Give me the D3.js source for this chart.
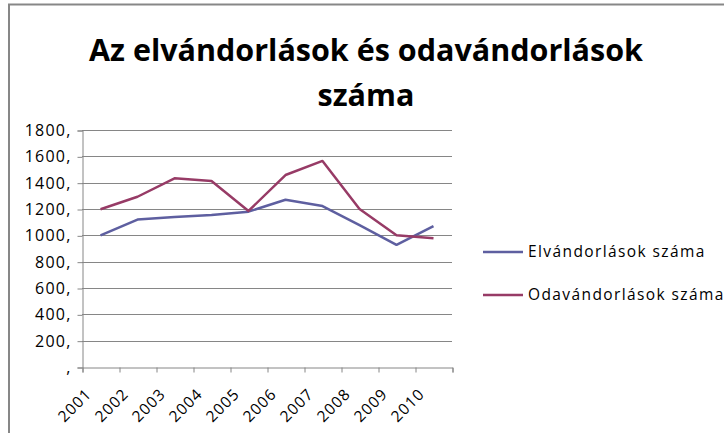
<!DOCTYPE html>
<html>
<head>
<meta charset="utf-8">
<script src="https://cdnjs.cloudflare.com/ajax/libs/d3/7.8.5/d3.min.js"></script>
<style>
  body { margin: 0; background: #fff; }
  svg { display: block; }
  text { font-family: "Open Sans", "DejaVu Sans", sans-serif; }
</style>
</head>
<body>
<div id="chart"></div>
<script>
// chart data
const years = ["2001", "2002", "2003", "2004", "2005", "2006", "2007", "2008", "2009", "2010"];
const elvandorlasok = [1000, 1120, 1140, 1155, 1180, 1270, 1222, 1078, 928, 1070];
const odavandorlasok = [1198, 1293, 1433, 1413, 1185, 1458, 1565, 1200, 1000, 977];
const yTicks = [0, 200, 400, 600, 800, 1000, 1200, 1400, 1600, 1800];
const seriesNames = ["Elvándorlások száma", "Odavándorlások száma"];
const seriesColors = ["#5E5FA0", "#973B66"];

function buildChart() {
  let boxWidth = 724;
  let boxHeight = 433;

  // plot area inside the chart box
  let plot = { left: 82, top: 130, right: 452, bottom: 367 };

  let svg = d3.select("#chart")
    .append("svg")
    .attr("width", boxWidth)
    .attr("height", boxHeight);

  // outer chart border
  svg.append("rect")
    .attr("x", 9)
    .attr("y", 4.5)
    .attr("width", 740)
    .attr("height", 460)
    .attr("fill", "none")
    .attr("stroke", "#878787")
    .attr("stroke-width", 2);

  // title
  let title = svg.append("text")
    .attr("text-anchor", "middle")
    .attr("font-weight", "bold")
    .attr("font-size", "30.5px")
    .attr("fill", "#000");
  title.append("tspan").attr("x", 366).attr("y", 61).text("Az elvándorlások és odavándorlások");
  title.append("tspan").attr("x", 366).attr("y", 106).text("száma");

  // scales
  let x = d3.scaleBand()
    .domain(years)
    .range([plot.left, plot.right]);

  let y = d3.scaleLinear()
    .domain([0, 1800])
    .range([plot.bottom, plot.top]);

  // horizontal gridlines
  svg.append("g")
    .selectAll("line")
    .data(yTicks.slice(1))
    .enter()
    .append("line")
    .attr("x1", plot.left)
    .attr("x2", plot.right)
    .attr("y1", d => Math.round(y(d)) + 0.5)
    .attr("y2", d => Math.round(y(d)) + 0.5)
    .attr("stroke", "#868686")
    .attr("stroke-width", 1);

  // y axis
  let yAxis = d3.axisLeft(y)
    .tickValues(yTicks)
    .tickSize(5)
    .tickPadding(6)
    .tickFormat(d => (d === 0 ? "" : d) + ",");

  let yg = svg.append("g")
    .attr("transform", `translate(${plot.left + 0.5}, 0.5)`)
    .call(yAxis);
  yg.selectAll("text")
    .attr("font-size", "16px")
    .attr("letter-spacing", "1.2px")
    .attr("fill", "#000");
  yg.selectAll("line, path").attr("stroke", "#868686");

  // x axis with ticks on the band edges
  let xAxis = d3.axisBottom(d3.scaleLinear().domain([0, years.length]).range([plot.left, plot.right]))
    .ticks(years.length)
    .tickSize(5)
    .tickFormat("");

  let xg = svg.append("g")
    .attr("transform", `translate(0.5, ${plot.bottom + 0.5})`)
    .call(xAxis);
  xg.selectAll("line, path").attr("stroke", "#868686");

  // rotated category labels
  svg.append("g")
    .selectAll("text")
    .data(years)
    .enter()
    .append("text")
    .attr("transform", d => `translate(${x(d) + x.bandwidth() / 2 - 8}, ${plot.bottom + 28}) rotate(-45)`)
    .attr("text-anchor", "end")
    .attr("font-size", "15.5px")
    .attr("letter-spacing", "1px")
    .attr("fill", "#000")
    .text(d => d);

  // lines
  let line = d3.line()
    .x((d, i) => x(years[i]) + x.bandwidth() / 2)
    .y(d => y(d));

  [elvandorlasok, odavandorlasok].forEach(function(values, i) {
    svg.append("path")
      .datum(values)
      .attr("d", line)
      .attr("fill", "none")
      .attr("stroke", seriesColors[i])
      .attr("stroke-width", 2.5)
      .attr("stroke-linejoin", "round");
  });

  // legend
  let legend = svg.append("g")
    .selectAll("g")
    .data(seriesNames)
    .enter()
    .append("g")
    .attr("transform", (d, i) => `translate(483, ${252 + i * 43})`);

  legend.append("line")
    .attr("x1", 0)
    .attr("x2", 40)
    .attr("stroke", (d, i) => seriesColors[i])
    .attr("stroke-width", 2.5);

  legend.append("text")
    .attr("x", 45)
    .attr("dy", "0.35em")
    .attr("font-size", "15.5px")
    .attr("letter-spacing", "1.4px")
    .attr("fill", "#000")
    .text(d => d);
}

buildChart();
</script>
</body>
</html>
